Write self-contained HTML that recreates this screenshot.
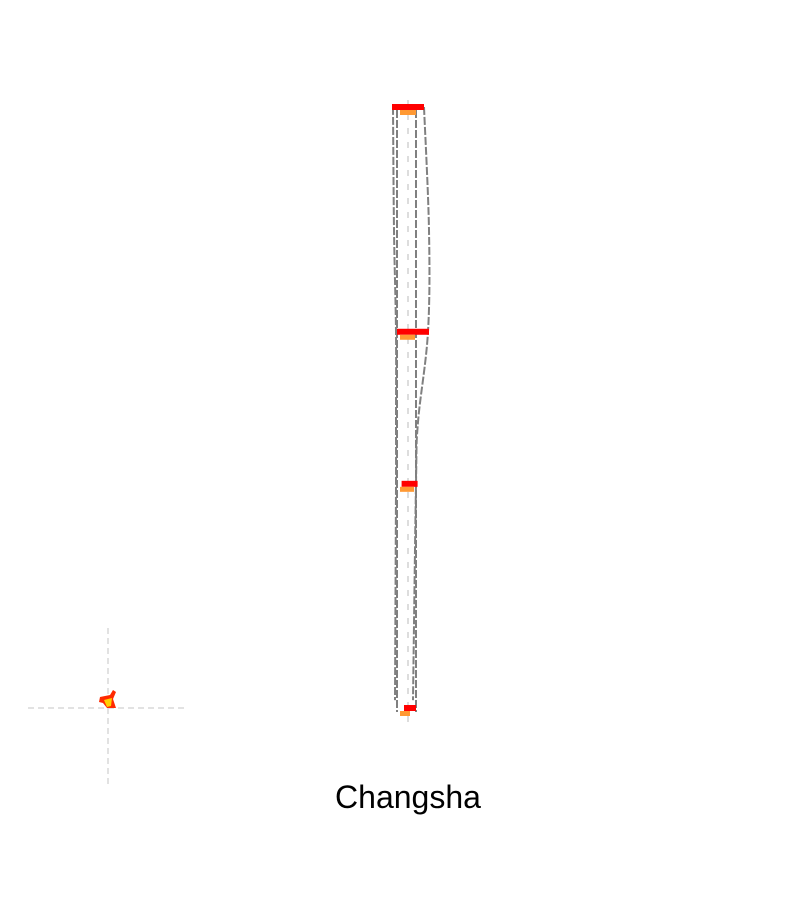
<!DOCTYPE html>
<html><head><meta charset="utf-8"><style>
html,body{margin:0;padding:0;background:#fff;width:800px;height:900px;overflow:hidden}
text{font-family:"Liberation Sans","DejaVu Sans",sans-serif}
</style></head><body>
<svg width="800" height="900" viewBox="0 0 800 900" xmlns="http://www.w3.org/2000/svg">
<g id="plot"></g>
<g>
<line x1="28" y1="708" x2="188" y2="708" stroke="#d9d9d9" stroke-width="1.5" stroke-dasharray="6,4"/>
<line x1="108" y1="628" x2="108" y2="788" stroke="#d9d9d9" stroke-width="1.5" stroke-dasharray="6,4"/>
<polygon points="100,697 110,695 113,690 116,692 113,699 116,708 107,708 103,703 99,702" fill="#ff2a00"/>
<polygon points="104,700 112,698 111,706 107,707" fill="#ffd000"/>
</g>
<text x="408" y="808" font-size="32" text-anchor="middle" fill="#000">Changsha</text>
</svg>
<script>
const categories = ["Changsha"];
const levelValues = [100, 62.6, 37.3, 0];
const redWidths = [32, 32, 16, 12];
const orangeWidths = [16, 15, 14, 10];
const shapeValues = [100, 79.5, 62.6, 47.6, 37.3, 1.3];
const outerLeft = [15, 14, 12, 12, 12, 13];
const outerRight = [16, 21, 20, 10, 8, 5];

const NS = "http://www.w3.org/2000/svg";
const plot = document.getElementById("plot");
const cx = 408, y0 = 708, y1 = 107;
function yScale(v){ return y0 - (v/100)*(y0-y1); }
function mk(tag, attrs){ const e=document.createElementNS(NS,tag); for(const k in attrs) e.setAttribute(k,attrs[k]); plot.appendChild(e); return e; }
function smoothPath(pts){
  let d = "M"+pts[0][0]+","+pts[0][1];
  for(let i=0;i<pts.length-1;i++){
    const p0=pts[Math.max(0,i-1)], p1=pts[i], p2=pts[i+1], p3=pts[Math.min(pts.length-1,i+2)];
    const c1=[p1[0]+(p2[0]-p0[0])/6, p1[1]+(p2[1]-p0[1])/6];
    const c2=[p2[0]-(p3[0]-p1[0])/6, p2[1]-(p3[1]-p1[1])/6];
    d += " C"+c1[0]+","+c1[1]+" "+c2[0]+","+c2[1]+" "+p2[0]+","+p2[1];
  }
  return d;
}

let e = mk("line",{x1:cx,y1:100,x2:cx,y2:722,stroke:"#dddddd","stroke-width":2,"stroke-dasharray":"6,8"});



e = mk("path",{d:smoothPath(shapeValues.map((v,i)=>[cx-outerLeft[i],yScale(v)])),fill:"none",stroke:"#808080","stroke-width":2,"stroke-dasharray":"8,2"});


e = mk("path",{d:smoothPath(shapeValues.map((v,i)=>[cx+outerRight[i],yScale(v)])),fill:"none",stroke:"#808080","stroke-width":2,"stroke-dasharray":"8,2"});



e = mk("line",{x1:cx-11,y1:yScale(levelValues[0])+3,x2:cx-11,y2:yScale(0)+4,stroke:"#808080","stroke-width":2,"stroke-dasharray":"8,2"});


e = mk("line",{x1:cx+8,y1:yScale(levelValues[0])+3,x2:cx+8,y2:yScale(0)+4,stroke:"#808080","stroke-width":2,"stroke-dasharray":"8,2"});



levelValues.forEach((v,i)=>{
  const y = yScale(v);
  const r = mk("rect",{x:cx-16+(i>=2?(32-redWidths[i])*0.6:(i==1?5:0)),y:y-3,width:redWidths[i],height:6,fill:"#ff0000"});
  
  
  const o = mk("rect",{x:cx-8,y:y+3,width:orangeWidths[i],height:5,fill:"#ff9933"});
  
  
});
</script>
</body></html>
